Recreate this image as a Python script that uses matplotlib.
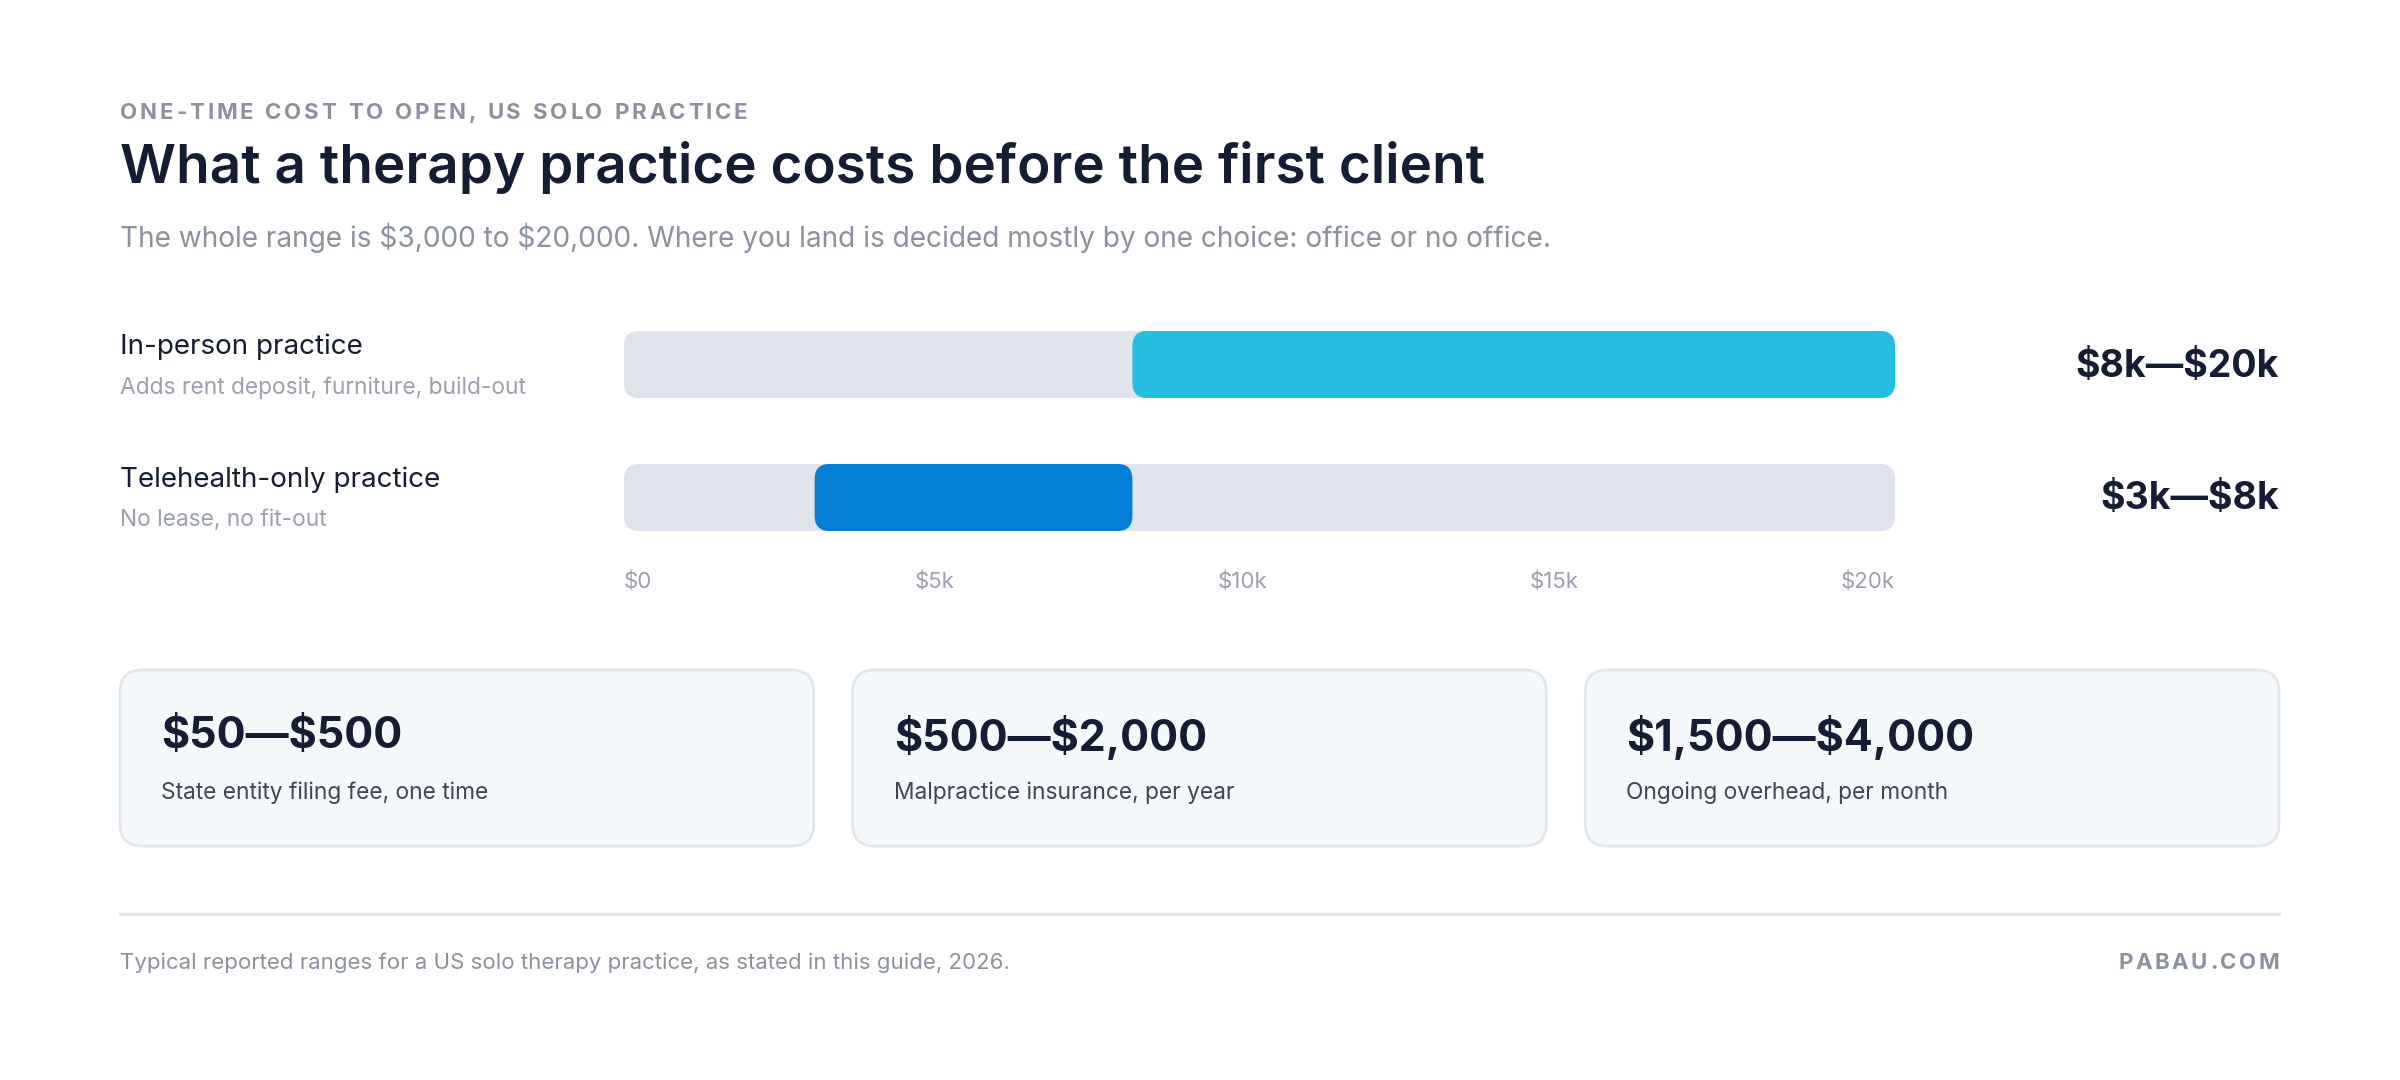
import matplotlib
matplotlib.use("Agg")
import matplotlib.pyplot as plt
from matplotlib.patches import FancyBboxPatch

plt.rcParams['font.family'] = ['Inter', 'DejaVu Sans']
plt.rcParams['text.parse_math'] = False

# data
practices = ["In-person practice", "Telehealth-only practice"]
practice_notes = ["Adds rent deposit, furniture, build-out", "No lease, no fit-out"]
cost_low = [8000, 3000]
cost_high = [20000, 8000]
range_labels = ["$8k\u2014$20k", "$3k\u2014$8k"]
bar_colors = ["#25bde0", "#067dd4"]
axis_max = 20000
tick_values = [0, 5000, 10000, 15000, 20000]
tick_labels = ["$0", "$5k", "$10k", "$15k", "$20k"]

card_values = ["$50\u2014$500", "$500\u2014$2,000", "$1,500\u2014$4,000"]
card_notes = ["State entity filing fee, one time", "Malpractice insurance, per year",
              "Ongoing overhead, per month"]

DARK = "#141d33"
GREY = "#8a91a1"
LIGHT_GREY = "#9aa0ae"
TRACK = "#dfe3eb"

W, H = 2400, 1080
fig = plt.figure(figsize=(24, 10.8), dpi=100)
fig.patch.set_facecolor("white")

# full canvas axes in pixel units (y down)
bg = fig.add_axes([0, 0, 1, 1])
bg.set_xlim(0, W)
bg.set_ylim(H, 0)
bg.axis("off")
fig.canvas.draw()
renderer = fig.canvas.get_renderer()


def tracked_text(x, y, s, tracking, ha="left", **kw):
    # letter-spaced text: draw each glyph, then shift into place
    parts = [bg.text(0, y, ch, ha="left", va="center", **kw) for ch in s]
    widths = []
    for p, ch in zip(parts, s):
        if ch == " ":
            widths.append(p.get_fontsize() * 100 / 72 * 0.28)
        else:
            widths.append(p.get_window_extent(renderer).width)
    total = sum(widths) + tracking * (len(s) - 1)
    cur = x if ha == "left" else x - total
    for p, w in zip(parts, widths):
        p.set_x(cur)
        cur += w + tracking


L, R = 120, 2279

tracked_text(L, 113, "ONE-TIME COST TO OPEN, US SOLO PRACTICE", 2.8, fontsize=16,
             fontweight="bold", color=GREY)
bg.text(L, 168, "What a therapy practice costs before the first client", fontsize=39.5,
        fontweight="semibold", color=DARK, va="center", ha="left")
bg.text(L, 238, "The whole range is $3,000 to $20,000. Where you land is decided mostly by one "
        "choice: office or no office.", fontsize=20.2, color=GREY, va="center", ha="left")

# bar chart axes
bx0, bx1 = 624, 1895
row_gap = 133      # px between bar centres
bar_h = 67         # px
top_px = 331
ax_h_px = row_gap + bar_h
ax = fig.add_axes([bx0 / W, 1 - (top_px + ax_h_px) / H, (bx1 - bx0) / W, ax_h_px / H])
ax.set_xlim(0, axis_max)
half = bar_h / row_gap / 2
ax.set_ylim(-half, 1 + half)
ax.axis("off")

ypos = [1, 0]
hbar = bar_h / row_gap
xu = axis_max / (bx1 - bx0)
yu = 1 / row_gap
radius = 15 * xu
aspect = yu / xu

for y, lo, hi, col in zip(ypos, cost_low, cost_high, bar_colors):
    ax.add_patch(FancyBboxPatch((0, y - hbar / 2), axis_max, hbar,
                                boxstyle=f"round,pad=0,rounding_size={radius}",
                                mutation_aspect=aspect, fc=TRACK, ec="none"))
    ax.add_patch(FancyBboxPatch((lo, y - hbar / 2), hi - lo, hbar,
                                boxstyle=f"round,pad=0,rounding_size={radius}",
                                mutation_aspect=aspect, fc=col, ec="none"))

# row labels and range labels
for y, name, note, rl in zip(ypos, practices, practice_notes, range_labels):
    cy = top_px + bar_h / 2 + (1 - y) * row_gap
    bg.text(L, cy - 18, name, fontsize=20, color=DARK, va="center", ha="left")
    bg.text(L, cy + 23, note, fontsize=16.4, color=LIGHT_GREY, va="center", ha="left")
    bg.text(R, cy + 2, rl, fontsize=27, fontweight="bold", color=DARK, va="center", ha="right")

# tick labels, spread edge to edge like the source layout
tick_texts = [bg.text(0, 582, t, fontsize=16, color=LIGHT_GREY, va="center", ha="left")
              for t in tick_labels]
widths = [t.get_window_extent(renderer).width for t in tick_texts]
x_first = ax.transData.transform((tick_values[0], 0))[0]
x_last = ax.transData.transform((tick_values[-1], 0))[0]
gap = (x_last - x_first - sum(widths)) / (len(widths) - 1)
cur = x_first
for t, w in zip(tick_texts, widths):
    t.set_x(cur)
    cur += w + gap

# cards
card_top, card_bot = 670, 846
card_w = (R - L - 2 * 39) / 3
for i, (val, note) in enumerate(zip(card_values, card_notes)):
    x0 = L + i * (card_w + 39)
    bg.add_patch(FancyBboxPatch((x0, card_top), card_w, card_bot - card_top,
                                boxstyle="round,pad=0,rounding_size=22",
                                fc="#f5f8fb", ec="#e0e6ec", lw=2))
    bg.text(x0 + 41, 737, val, fontsize=31, fontweight="bold", color=DARK,
            va="center", ha="left")
    bg.text(x0 + 41, 793, note, fontsize=16.4, color="#3f4555", va="center", ha="left")

bg.plot([L, R], [914, 914], color="#e3e8ee", lw=2.5)
bg.text(L, 963, "Typical reported ranges for a US solo therapy practice, as stated in this guide, 2026.",
        fontsize=16, color=GREY, va="center", ha="left")
tracked_text(R, 963, "PABAU.COM", 2.5, ha="right", fontsize=16, fontweight="bold", color=GREY)

fig.savefig("out.png", dpi=100, facecolor="white")
